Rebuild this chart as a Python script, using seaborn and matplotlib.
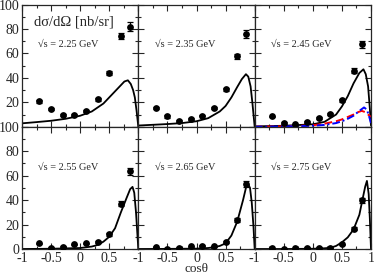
import numpy as np
import pandas as pd
import matplotlib
matplotlib.use("Agg")
import matplotlib.pyplot as plt
from matplotlib.ticker import MultipleLocator
import seaborn as sns

# ---------------- data ----------------
energies = ["2.25", "2.35", "2.45", "2.55", "2.65", "2.75"]
cos_pts = [-0.7, -0.5, -0.3, -0.1, 0.1, 0.3, 0.5, 0.7, 0.85]

pts_225 = [20.7, 14.7, 9.5, 9.5, 13.1, 22.6, 43.7, 73.9, 82.0]
pts_235 = [15.3, 8.4, 4.9, 6.5, 9.2, 15.3, 30.8, 57.5, 76.0]
pts_245 = [8.4, 2.9, 2.0, 3.8, 7.0, 10.4, 21.5, 46.0, 67.5]
pts_255 = [4.7, 1.1, 1.6, 3.8, 4.7, 5.7, 12.0, 37.0, 63.4]
pts_265 = [1.4, 0.3, 1.1, 2.2, 2.7, 2.2, 6.0, 23.8, 53.0]
pts_275 = [0.5, 0.0, 0.5, 1.1, 1.1, 1.1, 3.8, 16.4, 40.0]

err_225 = [1.2, 1.0, 1.0, 1.0, 1.0, 1.2, 1.5, 2.5, 3.5]
err_235 = [1.0, 1.0, 0.8, 0.8, 0.8, 1.0, 1.2, 2.0, 3.0]
err_245 = [0.8, 0.6, 0.6, 0.6, 0.8, 0.8, 1.2, 2.0, 3.0]
err_255 = [0.6, 0.5, 0.5, 0.5, 0.6, 0.6, 1.0, 2.0, 3.0]
err_265 = [0.5, 0.4, 0.4, 0.5, 0.5, 0.5, 0.8, 1.5, 2.5]
err_275 = [0.4, 0.3, 0.3, 0.4, 0.4, 0.4, 0.6, 1.2, 2.0]

cx_225 = [-1, -0.75, -0.5, -0.25, 0, 0.2, 0.4, 0.5, 0.6, 0.7, 0.76, 0.82, 0.87, 0.91, 0.94, 0.97, 1.0]
cy_225 = [2.8, 3.8, 4.9, 6.5, 9.0, 12.5, 19, 24, 29, 34, 37, 38, 35, 30, 24, 13, 0]
cx_235 = [-1, -0.75, -0.5, -0.25, 0, 0.2, 0.4, 0.5, 0.6, 0.7, 0.78, 0.85, 0.89, 0.93, 0.96, 0.98, 1.0]
cy_235 = [1.0, 1.6, 2.2, 3.0, 4.5, 7, 12.5, 17, 24, 32.5, 39, 43, 41, 33, 20, 10, 0]
cx_245 = [-1, -0.5, 0, 0.2, 0.4, 0.5, 0.6, 0.7, 0.8, 0.87, 0.91, 0.95, 0.98, 1.0]
cy_245 = [0.3, 0.8, 2, 4, 10, 16.6, 25, 35.5, 44, 47, 43, 33, 15, 1]
cx_255 = [-1, -0.5, 0, 0.2, 0.3, 0.4, 0.5, 0.6, 0.7, 0.8, 0.86, 0.9, 0.93, 0.96, 0.98, 1.0]
cy_255 = [0, 0.2, 0.8, 2, 3.3, 6, 10, 17, 30, 42, 49, 50.8, 46, 30, 15, 0]
cx_265 = [-1, -0.5, 0, 0.2, 0.3, 0.4, 0.5, 0.6, 0.7, 0.8, 0.85, 0.88, 0.92, 0.95, 0.98, 1.0]
cy_265 = [0, 0.1, 0.3, 0.8, 1.5, 2.5, 4.6, 11, 22.4, 40, 50, 53.8, 50, 38, 18, 0]
cx_275 = [-1, -0.5, 0, 0.2, 0.3, 0.4, 0.5, 0.6, 0.7, 0.8, 0.85, 0.9, 0.93, 0.96, 0.98, 1.0]
cy_275 = [0, 0, 0.2, 0.6, 1.0, 2.5, 5.5, 9.5, 16, 28, 39.6, 51, 55.7, 45, 25, 0]

# extra model curves at 2.45 GeV
red_x = [-1, -0.5, 0, 0.2, 0.4, 0.5, 0.6, 0.7, 0.78, 0.84, 0.9, 0.95, 1.0]
red_y = [0, 0.3, 1.2, 2.5, 4.5, 6, 8, 10, 12, 13, 12, 10, 8]
blue_x = [-1, -0.5, 0, 0.2, 0.4, 0.5, 0.6, 0.7, 0.8, 0.88, 0.93, 0.97, 1.0]
blue_y = [0, 0.2, 0.8, 1.5, 3, 4.5, 6.5, 9, 13, 15.8, 14, 8, 3]

xtick_vals = [-1, -0.5, 0, 0.5, 1]
xtick_labels = ["-1", "-0.5", "0", "0.5", "1"]
ytick_vals = [0, 20, 40, 60, 80, 100]
ytick_labels = ["0", "20", "40", "60", "80", "100"]

pts = [pts_225, pts_235, pts_245, pts_255, pts_265, pts_275]
errs = [err_225, err_235, err_245, err_255, err_265, err_275]
curves = [(cx_225, cy_225), (cx_235, cy_235), (cx_245, cy_245),
          (cx_255, cy_255), (cx_265, cy_265), (cx_275, cy_275)]

# ---------------- plot ----------------
sns.set_style("ticks")
plt.rcParams["font.family"] = ["Liberation Serif", "DejaVu Serif"]

fig, axes = plt.subplots(2, 3, figsize=(3.74, 2.75), dpi=100)
fig.subplots_adjust(left=22/374, right=371/374, top=1-4.5/275, bottom=1-249/275,
                    wspace=0, hspace=0)

for i, ax in enumerate(axes.flat):
    cx, cy = curves[i]
    sns.lineplot(x=cx, y=cy, ax=ax, color="black", lw=1.3, sort=False,
                 estimator=None)
    if i == 2:
        sns.lineplot(x=red_x, y=red_y, ax=ax, color="red", lw=1.4, sort=False,
                     estimator=None, linestyle=(0, (4, 2)))
        sns.lineplot(x=blue_x, y=blue_y, ax=ax, color="blue", lw=1.4, sort=False,
                     estimator=None, linestyle=(0, (4, 1.5, 1, 1.5)))
    ax.errorbar(cos_pts, pts[i], yerr=errs[i], fmt="none", ecolor="black",
                elinewidth=0.9, capsize=2, capthick=0.9, zorder=3)
    sns.scatterplot(x=cos_pts, y=pts[i], ax=ax, color="black", s=24,
                    edgecolor="black", linewidth=0, zorder=4)
    ax.text(-0.72, 67, "\u221as = " + energies[i] + " GeV", fontsize=7.4,
            ha="left", va="center")

    ax.set_xlim(-1, 1)
    ax.set_ylim(0, 100)
    ax.set_xticks(xtick_vals)
    ax.set_yticks(ytick_vals)
    ax.xaxis.set_minor_locator(MultipleLocator(0.25))
    ax.yaxis.set_minor_locator(MultipleLocator(10))
    ax.tick_params(which="both", direction="in", top=True, right=True,
                   width=0.8, labelsize=10, pad=2)
    ax.tick_params(which="major", length=4)
    ax.tick_params(which="minor", length=2.2)
    for sp in ax.spines.values():
        sp.set_linewidth(0.9)
    ax.set_xlabel("")
    ax.set_ylabel("")
    row, col = divmod(i, 3)
    if row == 1:
        labs = list(xtick_labels)
        if col < 2:
            labs[-1] = ""
        ax.set_xticklabels(labs)
    else:
        ax.set_xticklabels([""] * len(xtick_vals))
    if col == 0:
        labs = list(ytick_labels)
        if row == 0:
            labs[0] = ""
        ax.set_yticklabels(labs)
    else:
        ax.set_yticklabels([""] * len(ytick_vals))

axes[0, 0].text(-0.8, 86, "dσ/dΩ [nb/sr]", fontsize=10.5,
                ha="left", va="center")
axes[1, 1].set_xlabel("cosθ", fontsize=9.5, labelpad=-1)

fig.savefig("out.png", dpi=100)
